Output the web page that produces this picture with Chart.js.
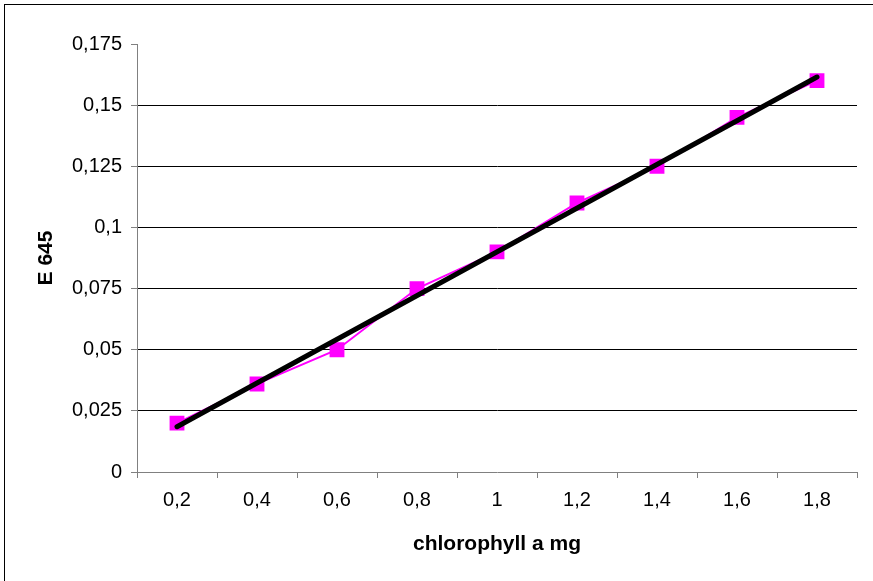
<!DOCTYPE html>
<html>
<head>
<meta charset="utf-8">
<style>
html,body{margin:0;padding:0;background:#fff;}
#wrap{position:relative;width:873px;height:581px;}
</style>
<script src="https://cdn.jsdelivr.net/npm/chart.js@4/dist/chart.umd.min.js"></script>
</head>
<body>
<div id="wrap"><canvas id="c" width="873" height="581"></canvas></div>
<script>
const categories = ['0,2','0,4','0,6','0,8','1','1,2','1,4','1,6','1,8'];
const absorbance = [0.020, 0.036, 0.050, 0.075, 0.090, 0.110, 0.125, 0.145, 0.160];
const trendLine = [0.0185, null, null, null, null, null, null, null, 0.1615];
const yTicks = [0, 0.025, 0.05, 0.075, 0.1, 0.125, 0.15, 0.175];
const xTitle = 'chlorophyll a mg';
const yTitle = 'E 645';

const FONT = '"Liberation Sans", Arial, sans-serif';
const PL = 137, PR = 857, PT = 44, PB = 472, W = 873, H = 581;
const PAD_L = 34, PAD_B = 24;

const borderPlugin = {
  id: 'outerBorder',
  beforeDraw(chart) {
    const ctx = chart.ctx;
    ctx.save();
    ctx.fillStyle = '#fff';
    ctx.fillRect(0, 0, W, H);
    ctx.strokeStyle = '#000';
    ctx.lineWidth = 1;
    ctx.strokeRect(4.5, 4.5, W + 10, H + 10);
    ctx.restore();
  }
};

new Chart(document.getElementById('c'), {
  type: 'line',
  data: {
    labels: categories,
    datasets: [
      {
        label: 'trend',
        data: trendLine,
        borderColor: '#000',
        borderWidth: 5,
        borderCapStyle: 'round',
        pointRadius: 0,
        spanGaps: true,
        order: 0
      },
      {
        label: 'E 645',
        data: absorbance,
        borderColor: '#FF00FF',
        backgroundColor: '#FF00FF',
        borderWidth: 2,
        pointStyle: 'rect',
        pointRadius: 10.5,
        pointBorderWidth: 0,
        pointBackgroundColor: '#FF00FF',
        order: 1
      }
    ]
  },
  plugins: [borderPlugin],
  options: {
    responsive: false,
    animation: false,
    layout: { padding: { left: PAD_L, right: W - PR, top: PT, bottom: PAD_B } },
    plugins: { legend: { display: false }, tooltip: { enabled: false } },
    scales: {
      x: {
        type: 'category',
        offset: true,
        grid: {
          offset: true,
          drawOnChartArea: false,
          drawTicks: true,
          tickLength: 6,
          tickColor: '#808080'
        },
        border: { display: true, color: '#808080', width: 1 },
        ticks: { color: '#000', font: { family: FONT, size: 20 }, padding: 10, maxRotation: 0, autoSkip: false },
        title: { display: true, text: xTitle, color: '#000', font: { family: FONT, size: 21, weight: 'bold' }, padding: { top: 10, bottom: 0 } },
        afterFit(s) { s.height = H - PB - PAD_B; }
      },
      y: {
        type: 'linear',
        min: 0,
        max: 0.175,
        afterBuildTicks(s) { s.ticks = yTicks.map(v => ({ value: v })); },
        grid: {
          color: ctx => (ctx.tick && (ctx.tick.value === 0 || Math.abs(ctx.tick.value - 0.175) < 1e-9)) ? 'rgba(0,0,0,0)' : '#000',
          drawTicks: true,
          tickLength: 6,
          tickColor: '#808080'
        },
        border: { display: true, color: '#808080', width: 1 },
        ticks: {
          color: '#000',
          font: { family: FONT, size: 20 },
          padding: 9,
          callback: v => String(+v.toFixed(3)).replace('.', ',')
        },
        title: { display: true, text: yTitle, color: '#000', font: { family: FONT, size: 21, weight: 'bold' }, padding: { top: 0, bottom: 0 } },
        afterFit(s) { s.width = PL - PAD_L; }
      }
    }
  }
});
</script>
</body>
</html>
